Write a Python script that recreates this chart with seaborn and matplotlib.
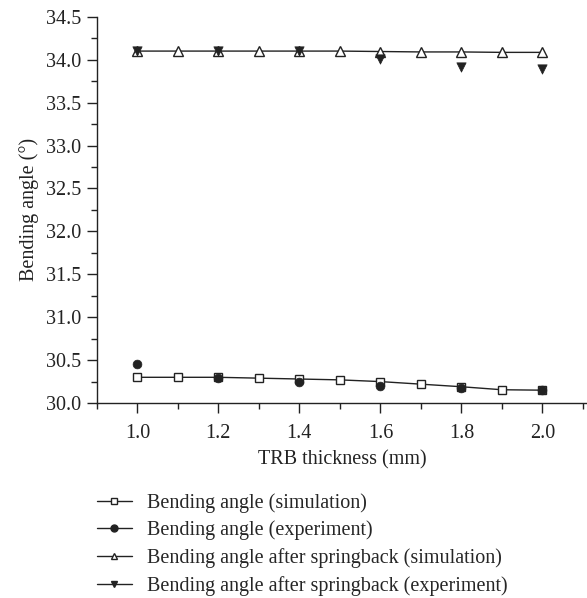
import matplotlib
matplotlib.use("Agg")
import matplotlib.pyplot as plt
from matplotlib.lines import Line2D
from matplotlib.ticker import MultipleLocator, FormatStrFormatter
import seaborn as sns
import pandas as pd

thk_sim = [1.0, 1.1, 1.2, 1.3, 1.4, 1.5, 1.6, 1.7, 1.8, 1.9, 2.0]
bend_sim = [30.30, 30.30, 30.30, 30.29, 30.28, 30.27, 30.25, 30.22, 30.19, 30.155, 30.15]
spring_sim = [34.10, 34.10, 34.10, 34.10, 34.10, 34.10, 34.095, 34.09, 34.09, 34.085, 34.085]

thk_exp = [1.0, 1.2, 1.4, 1.6, 1.8, 2.0]
bend_exp = [30.46, 30.29, 30.25, 30.20, 30.18, 30.15]
spring_exp = [34.10, 34.10, 34.10, 34.01, 33.91, 33.89]

labels = ["Bending angle (simulation)", "Bending angle (experiment)",
          "Bending angle after springback (simulation)",
          "Bending angle after springback (experiment)"]

sns.set_style("ticks")
plt.rcParams['font.family'] = ['Liberation Serif', 'DejaVu Serif']

FS = 14.5
fig = plt.figure(figsize=(5.87, 5.98), dpi=100)
ax = fig.add_axes([0.165, 0.326, 0.835, 0.646])

df_sim = pd.DataFrame({"t": thk_sim, "b": bend_sim, "s": spring_sim})
df_exp = pd.DataFrame({"t": thk_exp, "b": bend_exp, "s": spring_exp})

lc = "#222222"
sns.lineplot(data=df_sim, x="t", y="b", ax=ax, color=lc, lw=1.0, marker="s",
             markersize=6, markerfacecolor="white", markeredgecolor=lc,
             markeredgewidth=1.0, zorder=2)
sns.lineplot(data=df_sim, x="t", y="s", ax=ax, color=lc, lw=1.0, marker="^",
             markersize=7, markerfacecolor="white", markeredgecolor=lc,
             markeredgewidth=1.0, zorder=2)
sns.scatterplot(data=df_exp, x="t", y="b", ax=ax, color=lc, marker="o", s=40,
                edgecolor=lc, linewidth=0.5, zorder=3)
sns.scatterplot(data=df_exp, x="t", y="s", ax=ax, color=lc, marker="v", s=45,
                edgecolor=lc, linewidth=0.5, zorder=3)

ax.set_xlim(0.9, 2.11)
ax.set_ylim(30.0, 34.5)
ax.xaxis.set_major_locator(MultipleLocator(0.2))
ax.xaxis.set_minor_locator(MultipleLocator(0.1))
ax.yaxis.set_major_locator(MultipleLocator(0.5))
ax.yaxis.set_minor_locator(MultipleLocator(0.25))
ax.xaxis.set_major_formatter(FormatStrFormatter("%.1f"))
ax.yaxis.set_major_formatter(FormatStrFormatter("%.1f"))
for s in ["top", "right"]:
    ax.spines[s].set_visible(False)
for s in ["left", "bottom"]:
    ax.spines[s].set_color(lc)
    ax.spines[s].set_linewidth(1.0)
ax.tick_params(axis="both", which="major", direction="out", length=7.2, width=1.0,
               color=lc, labelsize=FS, labelcolor="#222222")
ax.tick_params(axis="x", which="major", pad=8)
ax.tick_params(axis="y", which="major", pad=4)
ax.tick_params(axis="both", which="minor", direction="out", length=4.0, width=1.0, color=lc)
ax.set_xlabel("TRB thickness (mm)", fontsize=FS, color="#222222", labelpad=5)
ax.set_ylabel("Bending angle (°)", fontsize=FS, color="#222222", labelpad=5)

handles = [
    Line2D([], [], color=lc, lw=1.0, marker="s", markersize=5, markerfacecolor="white", markeredgecolor=lc),
    Line2D([], [], color=lc, lw=1.0, marker="o", markersize=5, markerfacecolor=lc, markeredgecolor=lc),
    Line2D([], [], color=lc, lw=1.0, marker="^", markersize=5, markerfacecolor="white", markeredgecolor=lc),
    Line2D([], [], color=lc, lw=1.0, marker="v", markersize=5, markerfacecolor=lc, markeredgecolor=lc),
]
fig.legend(handles, labels, loc="upper left", bbox_to_anchor=(0.165, 0.175),
           bbox_transform=fig.transFigure, frameon=False, fontsize=FS,
           handlelength=1.75, handletextpad=0.75, labelspacing=0.38,
           borderpad=0, borderaxespad=0)
fig.savefig("out.png", dpi=100)
